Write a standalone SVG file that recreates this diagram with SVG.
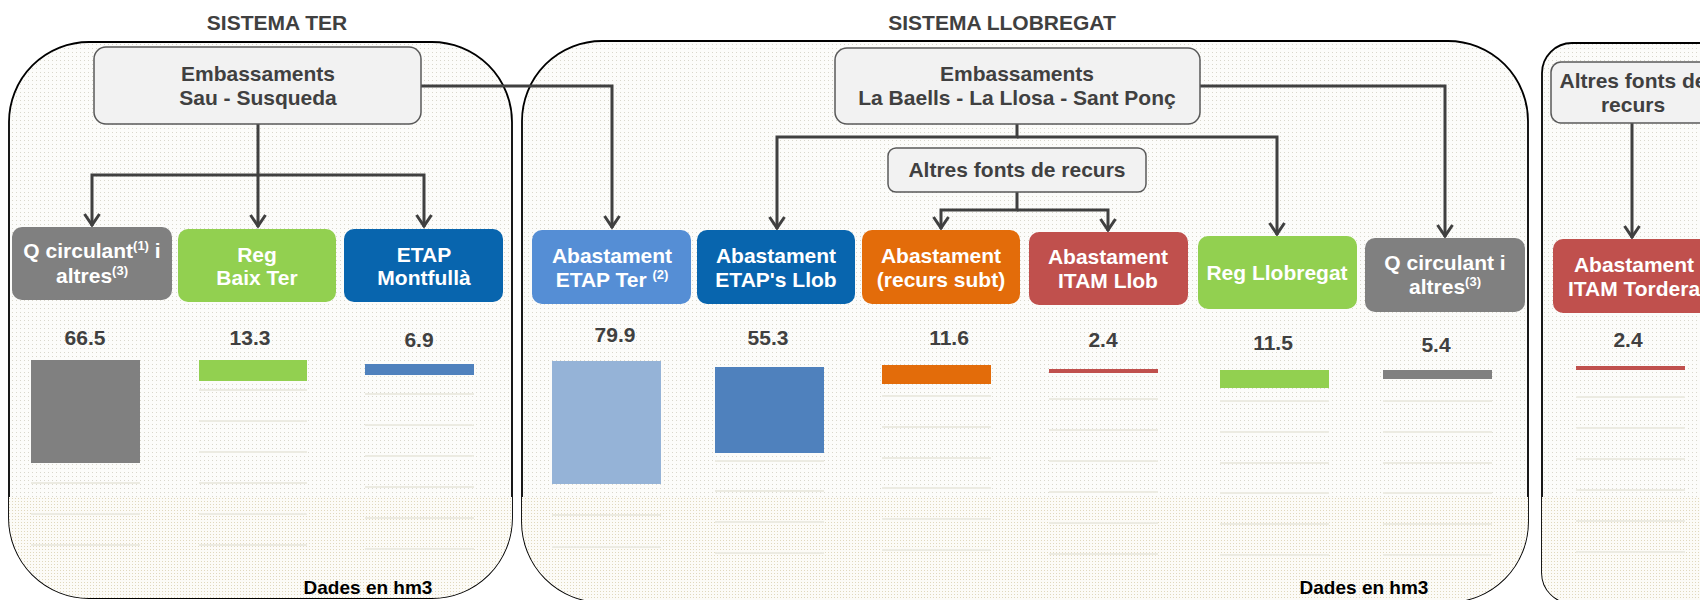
<svg xmlns="http://www.w3.org/2000/svg" width="1700" height="600" viewBox="0 0 1700 600">
<style>
.t{font-family:"Liberation Sans",Arial,sans-serif;font-weight:bold;text-anchor:middle}
.dark{fill:#404040;font-size:21px}
.wh{fill:#ffffff;font-size:21px}
.num{fill:#404040;font-size:21px}
.foot{fill:#000000;font-size:19px}
.sup{font-size:13px}
.cont{stroke:#000;stroke-width:1.8;fill:url(#dots)}
.grey{fill:#f2f2f2;stroke:#595959;stroke-width:1.5}
.con{fill:none;stroke:#404040;stroke-width:3;stroke-linejoin:miter}
.arr{marker-end:url(#ah)}
.grid{stroke:#ecebe2;stroke-width:2}
</style>
<defs>
<pattern id="dots" width="4" height="4" patternUnits="userSpaceOnUse">
<rect width="4" height="4" fill="#fcfcfa"/>
<rect width="1" height="1" fill="#d9d7cc"/>
</pattern>
<pattern id="dots2" width="3" height="3" patternUnits="userSpaceOnUse">
<rect width="3" height="3" fill="#fcfbf7"/>
<rect width="1" height="1" fill="#e0d8bd"/>
</pattern>
<clipPath id="cc">
<rect x="9" y="42" width="503" height="556" rx="80" ry="80"/>
<rect x="522" y="41" width="1006" height="561" rx="80" ry="80"/>
<rect x="1542" y="43" width="260" height="560" rx="30" ry="30"/>
</clipPath>
<marker id="ah" markerWidth="30" markerHeight="30" viewBox="-15 -15 30 30" refX="0" refY="0" orient="auto" markerUnits="userSpaceOnUse">
<path d="M-12,-7.5 L-1,0 L-12,7.5" fill="none" stroke="#404040" stroke-width="3"/>
</marker>
</defs>
<rect width="1700" height="600" fill="#ffffff"/>

<g id="titles">
<text class="t dark" x="277" y="30">SISTEMA TER</text>
<text class="t dark" x="1002" y="30">SISTEMA LLOBREGAT</text>
</g>

<g id="containers">
<rect id="sistema-ter" class="cont" x="9" y="42" width="503" height="556" rx="80" ry="80"/>
<rect id="sistema-llobregat" class="cont" x="522" y="41" width="1006" height="561" rx="80" ry="80"/>
<rect id="sistema-tordera" class="cont" x="1542" y="43" width="260" height="560" rx="30" ry="30"/>
<rect x="0" y="497" width="1700" height="110" fill="url(#dots2)" clip-path="url(#cc)"/>
</g>

<g id="gridlines">
<path class="grid" d="M31,483H140M31,514H140M31,545H140
M199,390H307M199,421H307M199,452H307M199,483H307M199,514H307M199,545H307
M365,394H474M365,425H474M365,456H474M365,487H474M365,518H474M365,549H474
M552,515H661M552,547H661
M715,461H824M715,491H824M715,522H824M715,553H824
M882,396H991M882,427H991M882,458H991M882,488H991M882,519H991M882,550H991
M1049,399H1158M1049,430H1158M1049,461H1158M1049,492H1158M1049,523H1158M1049,554H1158
M1220,401H1329M1220,432H1329M1220,463H1329M1220,493H1329M1220,524H1329M1220,555H1329
M1383,401H1492M1383,432H1492M1383,463H1492M1383,493H1492M1383,524H1492M1383,555H1492
M1576,397H1685M1576,428H1685M1576,459H1685M1576,490H1685M1576,521H1685M1576,552H1685"/>
</g>

<g id="bars">
<g id="bar-q-ter"><text class="t num" x="85" y="345">66.5</text><rect x="31" y="360" width="109" height="103" fill="#808080"/></g>
<g id="bar-reg-ter"><text class="t num" x="250" y="345">13.3</text><rect x="199" y="360" width="108" height="21" fill="#92d050"/></g>
<g id="bar-etap-montfulla"><text class="t num" x="419" y="347">6.9</text><rect x="365" y="364" width="109" height="11" fill="#4f81bd"/></g>
<g id="bar-etap-ter"><text class="t num" x="615" y="342">79.9</text><rect x="552" y="361" width="109" height="123" fill="#95b3d7"/></g>
<g id="bar-etap-llob"><text class="t num" x="768" y="345">55.3</text><rect x="715" y="367" width="109" height="86" fill="#4f81bd"/></g>
<g id="bar-subt"><text class="t num" x="949" y="345">11.6</text><rect x="882" y="365" width="109" height="19" fill="#e36c0a"/></g>
<g id="bar-itam-llob"><text class="t num" x="1103" y="347">2.4</text><rect x="1049" y="369" width="109" height="4" fill="#c0504d"/></g>
<g id="bar-reg-llob"><text class="t num" x="1273" y="350">11.5</text><rect x="1220" y="370" width="109" height="18" fill="#92d050"/></g>
<g id="bar-q-llob"><text class="t num" x="1436" y="352">5.4</text><rect x="1383" y="370" width="109" height="9" fill="#808080"/></g>
<g id="bar-itam-tordera"><text class="t num" x="1628" y="347">2.4</text><rect x="1576" y="366" width="109" height="4" fill="#c0504d"/></g>
<text class="t foot" x="368" y="594">Dades en hm3</text>
<text class="t foot" x="1364" y="594">Dades en hm3</text>
</g>

<g id="connectors">
<path class="con arr" d="M258,124 V175 H92 V226"/>
<path class="con arr" d="M258,175 V227"/>
<path class="con arr" d="M258,175 H424 V227"/>
<path class="con arr" d="M421,86 H612 V228"/>
<path class="con arr" d="M1017,124 V137 H777 V229"/>
<path class="con arr" d="M1017,137 H1277 V235"/>
<path class="con arr" d="M1200,86 H1445 V237"/>
<path class="con arr" d="M1017,192 V210 H941 V229"/>
<path class="con arr" d="M1017,210 H1108 V231"/>
<path class="con arr" d="M1632,123 V238"/>
</g>

<g id="emb-sau">
<rect class="grey" x="94" y="47" width="327" height="77" rx="12"/>
<text class="t dark" x="258" y="81">Embassaments</text>
<text class="t dark" x="258" y="105">Sau - Susqueda</text>
</g>
<g id="emb-llob">
<rect class="grey" x="835" y="48" width="365" height="76" rx="12"/>
<text class="t dark" x="1017" y="81">Embassaments</text>
<text class="t dark" x="1017" y="105">La Baells - La Llosa - Sant Ponç</text>
</g>
<g id="altres-llob">
<rect class="grey" x="888" y="148" width="258" height="44" rx="8"/>
<text class="t dark" x="1017" y="177">Altres fonts de recurs</text>
</g>
<g id="altres-tordera">
<rect class="grey" x="1551" y="62" width="165" height="61" rx="10"/>
<text class="t dark" x="1633" y="88">Altres fonts de</text>
<text class="t dark" x="1633" y="112">recurs</text>
</g>

<g id="q-ter">
<rect x="12" y="227" width="160" height="73" rx="10" fill="#808080"/>
<text class="t wh" x="92" y="258">Q circulant<tspan class="sup" dy="-8">(1)</tspan><tspan dy="8"> i</tspan></text>
<text class="t wh" x="92" y="283">altres<tspan class="sup" dy="-8">(3)</tspan></text>
</g>
<g id="reg-baix-ter">
<rect x="178" y="229" width="158" height="73" rx="10" fill="#92d050"/>
<text class="t wh" x="257" y="262">Reg</text>
<text class="t wh" x="257" y="285">Baix Ter</text>
</g>
<g id="etap-montfulla">
<rect x="344" y="229" width="159" height="73" rx="10" fill="#0865ae"/>
<text class="t wh" x="424" y="262">ETAP</text>
<text class="t wh" x="424" y="285">Montfullà</text>
</g>
<g id="etap-ter">
<rect x="532" y="230" width="159" height="74" rx="10" fill="#558ed5"/>
<text class="t wh" x="612" y="263">Abastament</text>
<text class="t wh" x="612" y="287">ETAP Ter <tspan class="sup" dy="-8">(2)</tspan></text>
</g>
<g id="etap-llob">
<rect x="697" y="230" width="158" height="74" rx="10" fill="#0865ae"/>
<text class="t wh" x="776" y="263">Abastament</text>
<text class="t wh" x="776" y="287">ETAP's Llob</text>
</g>
<g id="recurs-subt">
<rect x="862" y="230" width="158" height="74" rx="10" fill="#e36c0a"/>
<text class="t wh" x="941" y="263">Abastament</text>
<text class="t wh" x="941" y="287">(recurs subt)</text>
</g>
<g id="itam-llob">
<rect x="1029" y="232" width="159" height="73" rx="10" fill="#c0504d"/>
<text class="t wh" x="1108" y="264">Abastament</text>
<text class="t wh" x="1108" y="288">ITAM Llob</text>
</g>
<g id="reg-llobregat">
<rect x="1198" y="236" width="159" height="73" rx="10" fill="#92d050"/>
<text class="t wh" x="1277" y="280">Reg Llobregat</text>
</g>
<g id="q-llob">
<rect x="1365" y="238" width="160" height="74" rx="10" fill="#808080"/>
<text class="t wh" x="1445" y="270">Q circulant i</text>
<text class="t wh" x="1445" y="294">altres<tspan class="sup" dy="-8">(3)</tspan></text>
</g>
<g id="itam-tordera">
<rect x="1553" y="239" width="162" height="74" rx="10" fill="#c0504d"/>
<text class="t wh" x="1634" y="272">Abastament</text>
<text class="t wh" x="1634" y="296">ITAM Tordera</text>
</g>
</svg>
